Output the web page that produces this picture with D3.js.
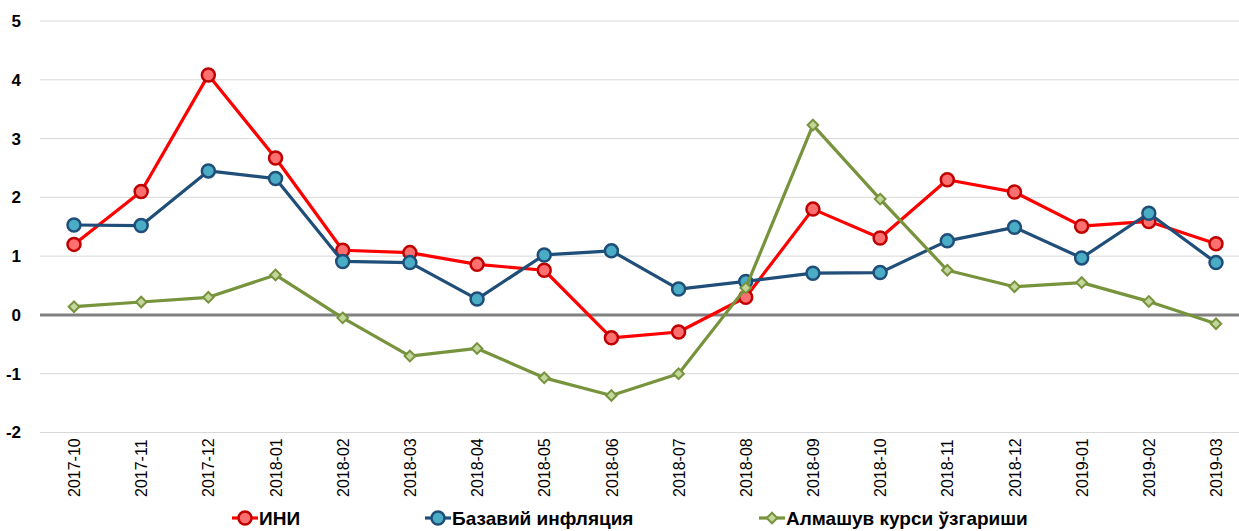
<!DOCTYPE html>
<html>
<head>
<meta charset="utf-8">
<script src="https://cdn.jsdelivr.net/npm/d3@7"></script>
<style>
  body { margin: 0; background: #fff; }
  svg { display: block; font-family: "Liberation Sans Narrow", "Arial Narrow", "Liberation Sans", sans-serif; }
</style>
</head>
<body>
<svg id="chart" width="1239" height="531"></svg>
<script>
const months = ["2017-10", "2017-11", "2017-12", "2018-01", "2018-02", "2018-03", "2018-04", "2018-05", "2018-06",
  "2018-07", "2018-08", "2018-09", "2018-10", "2018-11", "2018-12", "2019-01", "2019-02", "2019-03"];

const cpi = [1.2, 2.1, 4.08, 2.67, 1.1, 1.06, 0.86, 0.76, -0.39, -0.29, 0.3, 1.8, 1.31, 2.3, 2.09, 1.51, 1.59, 1.21];
const coreInflation = [1.53, 1.52, 2.45, 2.32, 0.91, 0.89, 0.27, 1.02, 1.09, 0.44, 0.57, 0.71, 0.72, 1.26, 1.49, 0.97, 1.73, 0.89];
const exchangeRate = [0.14, 0.22, 0.3, 0.68, -0.05, -0.7, -0.57, -1.07, -1.37, -1.0, 0.46, 3.23, 1.97, 0.76, 0.48, 0.55, 0.23, -0.15];

const yTicks = [-2, -1, 0, 1, 2, 3, 4, 5];

const series = [
  { name: "ИНИ", values: cpi, line: "#ff0000", fill: "#ff6f6f", stroke: "#c00000", shape: "circle", legendX: 232 },
  { name: "Базавий инфляция", values: coreInflation, line: "#1f4e79", fill: "#4bacc6", stroke: "#1f4e79", shape: "circle", legendX: 425 },
  { name: "Алмашув курси ўзгариши", values: exchangeRate, line: "#77933c", fill: "#c3d69b", stroke: "#77933c", shape: "diamond", legendX: 759 }
];

const svg = d3.select("#chart");
const width = 1239;

const x = d3.scalePoint()
  .domain(months)
  .range([74, 1216]);

const y = d3.scaleLinear()
  .domain([-2, 5])
  .range([432.5, 21]);

// grid
svg.append("g")
  .selectAll("line")
  .data(yTicks.filter(d => d !== 0))
  .join("line")
  .attr("x1", 40)
  .attr("x2", width)
  .attr("y1", d => y(d))
  .attr("y2", d => y(d))
  .style("stroke", "#d9d9d9")
  .style("stroke-width", "1px");

// y labels (plain hyphen for negatives, like the original)
const yAxis = d3.axisLeft(y).tickValues(yTicks).tickSize(0).tickPadding(0).tickFormat(d => String(d));
svg.append("g")
  .attr("transform", "translate(21,0)")
  .call(yAxis)
  .call(g => g.select(".domain").remove())
  .selectAll("text")
  .style("font-family", "inherit")
  .style("font-size", "17px")
  .style("font-weight", "bold")
  .style("fill", "#000");

// x labels
const xAxis = d3.axisBottom(x).tickSize(0).tickPadding(0);
svg.append("g")
  .attr("transform", "translate(0,443)")
  .call(xAxis)
  .call(g => g.select(".domain").remove())
  .selectAll("text")
  .attr("transform", "rotate(-90)")
  .attr("x", -54)
  .attr("y", 0)
  .attr("dy", "0.35em")
  .style("text-anchor", "start")
  .style("font-family", "inherit")
  .style("font-size", "16px")
  .style("fill", "#000");

// zero line
svg.append("line")
  .attr("x1", 40)
  .attr("x2", width)
  .attr("y1", y(0))
  .attr("y2", y(0))
  .style("stroke", "#808080")
  .style("stroke-width", "3px");

const line = d3.line()
  .x((d, i) => x(months[i]))
  .y(d => y(d));

function drawMarker(g, s, cx, cy) {
  if (s.shape === "circle") {
    g.append("circle")
      .attr("cx", cx)
      .attr("cy", cy)
      .attr("r", 6.5)
      .style("fill", s.fill)
      .style("stroke", s.stroke)
      .style("stroke-width", "2.5px");
  } else {
    g.append("path")
      .attr("d", d3.symbol().type(d3.symbolDiamond2).size(72))
      .attr("transform", `translate(${cx},${cy})`)
      .style("fill", s.fill)
      .style("stroke", s.stroke)
      .style("stroke-width", "2px");
  }
}

series.forEach(s => {
  const g = svg.append("g");
  g.append("path")
    .datum(s.values)
    .attr("d", line)
    .style("fill", "none")
    .style("stroke", s.line)
    .style("stroke-width", "3.2px")
    .style("stroke-linejoin", "round");
  s.values.forEach((v, i) => drawMarker(g, s, x(months[i]), y(v)));
});

// legend
const legendY = 518;
series.forEach(s => {
  const g = svg.append("g");
  g.append("line")
    .attr("x1", s.legendX)
    .attr("x2", s.legendX + 26)
    .attr("y1", legendY)
    .attr("y2", legendY)
    .style("stroke", s.line)
    .style("stroke-width", "3.2px");
  drawMarker(g, s, s.legendX + 13, legendY);
  g.append("text")
    .attr("x", s.legendX + 27)
    .attr("y", legendY)
    .attr("dy", "0.36em")
    .style("font-size", "19px")
    .style("font-weight", "bold")
    .style("fill", "#000")
    .text(s.name);
});
</script>
</body>
</html>
